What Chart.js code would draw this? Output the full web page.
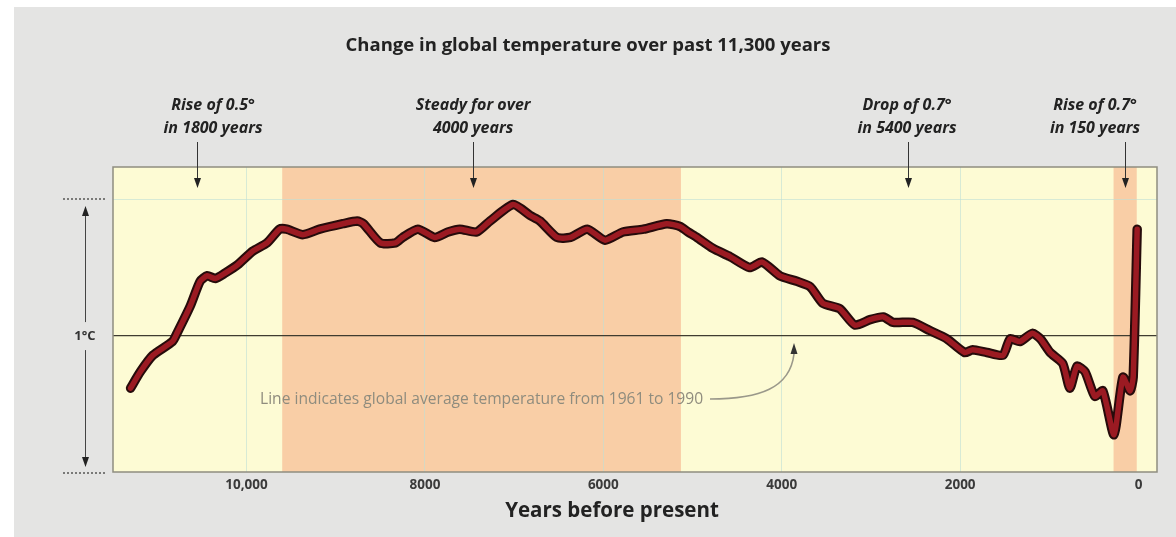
<!DOCTYPE html>
<html>
<head>
<meta charset="utf-8">
<script src="https://cdn.jsdelivr.net/npm/chart.js@4.4.1/dist/chart.umd.min.js"></script>
<style>
  html, body { margin: 0; padding: 0; background: #fff; }
  #chart { display: block; }
</style>
</head>
<body>
<canvas id="chart" width="1176" height="537"></canvas>
<script>
// years before present and temperature vs 1961-1990 average (deg C)
const years = [11300, 11190, 11050, 10830, 10780, 10630, 10520, 10440, 10350, 10240,
  10100, 9930, 9770, 9630, 9550, 9370, 9180, 8920, 8760, 8690,
  8500, 8330, 8250, 8080, 7890, 7740, 7610, 7420, 7270, 7010,
  6820, 6710, 6520, 6370, 6180, 5980, 5780, 5550, 5290, 5140,
  5050, 4950, 4770, 4580, 4360, 4220, 4020, 3830, 3680, 3540,
  3350, 3180, 3010, 2860, 2750, 2530, 2340, 2150, 1950, 1860,
  1700, 1520, 1440, 1330, 1190, 1100, 990, 850, 770, 690,
  600, 490, 400, 275, 175, 95, 60, 15];
const temps = [-0.19, -0.13, -0.07, -0.02, 0.01, 0.11, 0.20, 0.22, 0.21, 0.23,
  0.26, 0.31, 0.34, 0.39, 0.39, 0.37, 0.39, 0.41, 0.42, 0.41,
  0.34, 0.34, 0.36, 0.39, 0.36, 0.38, 0.39, 0.38, 0.42, 0.48,
  0.44, 0.42, 0.36, 0.36, 0.39, 0.35, 0.38, 0.39, 0.41, 0.40,
  0.38, 0.36, 0.32, 0.29, 0.25, 0.27, 0.22, 0.20, 0.18, 0.12,
  0.10, 0.04, 0.06, 0.07, 0.05, 0.05, 0.02, -0.01, -0.06, -0.05,
  -0.06, -0.07, -0.01, -0.02, 0.01, -0.01, -0.06, -0.10, -0.19, -0.11,
  -0.13, -0.22, -0.20, -0.36, -0.15, -0.20, -0.15, 0.39];

const tickValues = [10000, 8000, 6000, 4000, 2000, 0];
const tickLabels = ['10,000', '8000', '6000', '4000', '2000', '0'];

// shaded periods (years before present)
const bandStarts = [9600, 280];
const bandEnds = [5130, 20];

const noteLines = [
  ['Rise of 0.5°', 'in 1800 years'],
  ['Steady for over', '4000 years'],
  ['Drop of 0.7°', 'in 5400 years'],
  ['Rise of 0.7°', 'in 150 years']
];
const noteTextYears = [10375, 7460, 2595, 488];
const noteArrowYears = [10554, 7460, 2584, 151];

const points = years.map(function(y, i) { return { x: y, y: temps[i] }; });

function arrowHead(ctx, x, y, dir, w, h) {
  // dir 1 = pointing down, -1 = pointing up
  ctx.beginPath();
  ctx.moveTo(x, y);
  ctx.lineTo(x - w, y - dir * h);
  ctx.lineTo(x + w, y - dir * h);
  ctx.closePath();
  ctx.fill();
}

const decor = {
  id: 'decor',
  beforeDraw: function(chart) {
    var ctx = chart.ctx;
    var a = chart.chartArea;
    var xs = chart.scales.x;
    ctx.save();
    ctx.fillStyle = '#ffffff';
    ctx.fillRect(0, 0, chart.width, chart.height);
    ctx.fillStyle = '#e4e4e3';
    ctx.fillRect(14, 7, chart.width - 14, chart.height - 7);
    ctx.fillStyle = '#fdfbd4';
    ctx.fillRect(a.left, a.top, a.right - a.left, a.bottom - a.top);
    ctx.fillStyle = '#f9cea6';
    for (var i = 0; i < bandStarts.length; i++) {
      var x1 = xs.getPixelForValue(bandStarts[i]);
      var x2 = xs.getPixelForValue(bandEnds[i]);
      ctx.fillRect(x1, a.top, x2 - x1, a.bottom - a.top);
    }
    ctx.restore();
  },
  afterDatasetsDraw: function(chart) {
    var ctx = chart.ctx;
    var a = chart.chartArea;
    ctx.save();
    ctx.strokeStyle = '#8e8d80';
    ctx.lineWidth = 1.5;
    ctx.strokeRect(a.left, a.top, a.right - a.left, a.bottom - a.top);
    ctx.restore();
  },
  afterDraw: function(chart) {
    var ctx = chart.ctx;
    var xs = chart.scales.x;
    var ys = chart.scales.y;
    ctx.save();

    // title
    ctx.fillStyle = '#222';
    ctx.textAlign = 'center';
    ctx.textBaseline = 'middle';
    ctx.font = 'bold 18.5px "Open Sans"';
    ctx.fillText('Change in global temperature over past 11,300 years', 588, 46);

    // x axis title
    ctx.font = 'bold 20.5px "Open Sans"';
    ctx.fillText('Years before present', 612, 511);

    // notes with arrows
    ctx.font = 'italic bold 16px "Open Sans"';
    for (var i = 0; i < noteLines.length; i++) {
      var tx = xs.getPixelForValue(noteTextYears[i]);
      ctx.fillStyle = '#222';
      ctx.fillText(noteLines[i][0], tx, 105);
      ctx.fillText(noteLines[i][1], tx, 128);
      var ax = Math.round(xs.getPixelForValue(noteArrowYears[i])) + 0.5;
      ctx.strokeStyle = '#333';
      ctx.lineWidth = 1;
      ctx.beginPath();
      ctx.moveTo(ax, 142);
      ctx.lineTo(ax, 180);
      ctx.stroke();
      ctx.fillStyle = '#222';
      arrowHead(ctx, ax, 188, 1, 3.5, 10);
    }

    // 1 deg C scale on the left
    var yTop = ys.getPixelForValue(0.5);
    var yBot = ys.getPixelForValue(-0.5);
    var yMid = ys.getPixelForValue(0);
    ctx.strokeStyle = '#555';
    ctx.lineWidth = 1.5;
    ctx.setLineDash([2, 2]);
    ctx.beginPath();
    ctx.moveTo(63, yTop); ctx.lineTo(107, yTop);
    ctx.moveTo(63, yBot); ctx.lineTo(107, yBot);
    ctx.stroke();
    ctx.setLineDash([]);
    ctx.lineWidth = 1;
    ctx.strokeStyle = '#444';
    ctx.beginPath();
    ctx.moveTo(85.5, yTop + 14); ctx.lineTo(85.5, yMid - 14);
    ctx.moveTo(85.5, yMid + 14); ctx.lineTo(85.5, yBot - 14);
    ctx.stroke();
    ctx.fillStyle = '#222';
    arrowHead(ctx, 85.5, yTop + 7, -1, 3.5, 10);
    arrowHead(ctx, 85.5, yBot - 6, 1, 3.5, 10);
    ctx.font = 'bold 13px "Open Sans"';
    ctx.fillStyle = '#333';
    ctx.fillText('1°C', 85, yMid);

    // reference line note
    ctx.textAlign = 'left';
    ctx.font = '15.6px "Open Sans"';
    ctx.fillStyle = '#8f8c7e';
    ctx.fillText('Line indicates global average temperature from 1961 to 1990', 260, 400);
    ctx.strokeStyle = '#9a988a';
    ctx.lineWidth = 1.6;
    ctx.beginPath();
    ctx.moveTo(710, 399);
    ctx.bezierCurveTo(760, 399, 790, 388, 794, 354);
    ctx.stroke();
    ctx.fillStyle = '#333';
    arrowHead(ctx, 794, 343, -1, 3.5, 11);

    ctx.restore();
  }
};

new Chart(document.getElementById('chart'), {
  type: 'line',
  data: {
    datasets: [{
      data: points,
      borderColor: '#9b1a22',
      borderWidth: 5.5,
      pointRadius: 0,
      tension: 0.2,
      borderJoinStyle: 'round',
      borderCapStyle: 'round'
    }, {
      data: points,
      borderColor: '#260b0b',
      borderWidth: 9.5,
      pointRadius: 0,
      tension: 0.2,
      borderJoinStyle: 'round',
      borderCapStyle: 'round'
    }]
  },
  options: {
    responsive: false,
    animation: false,
    layout: { padding: { left: 113, right: 19, top: 167, bottom: 0 } },
    plugins: { legend: { display: false }, tooltip: { enabled: false } },
    scales: {
      x: {
        type: 'linear',
        reverse: true,
        min: -207,
        max: 11497,
        afterBuildTicks: function(axis) {
          axis.ticks = tickValues.map(function(v) { return { value: v }; });
        },
        afterFit: function(axis) { axis.height = 65; },
        ticks: {
          autoSkip: false,
          maxRotation: 0,
          padding: 5,
          color: '#3a3a3a',
          font: { family: 'Open Sans', size: 13.5, weight: 'bold' },
          callback: function(value) {
            var i = tickValues.indexOf(value);
            return i >= 0 ? tickLabels[i] : '';
          }
        },
        grid: {
          drawTicks: false,
          lineWidth: 1,
          color: function(c) {
            return c.tick && c.tick.value === 0 ? 'rgba(0,0,0,0)' : 'rgba(190,224,214,0.6)';
          }
        },
        border: { display: false }
      },
      y: {
        type: 'linear',
        min: -0.496,
        max: 0.617,
        afterBuildTicks: function(axis) {
          axis.ticks = [{ value: 0 }, { value: 0.5 }];
        },
        afterFit: function(axis) { axis.width = 0; },
        ticks: { display: false },
        grid: {
          drawTicks: false,
          lineWidth: function(c) { return c.tick && c.tick.value === 0 ? 1.3 : 1; },
          color: function(c) {
            return c.tick && c.tick.value === 0 ? '#3f3c30' : 'rgba(190,224,214,0.6)';
          }
        },
        border: { display: false }
      }
    }
  },
  plugins: [decor]
});
</script>
</body>
</html>
